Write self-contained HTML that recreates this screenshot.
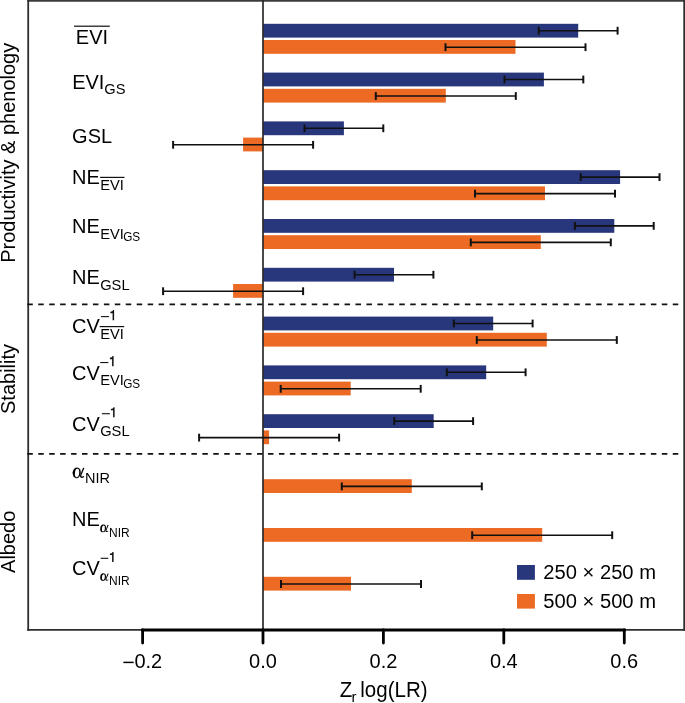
<!DOCTYPE html>
<html><head><meta charset="utf-8"><style>
html,body{margin:0;padding:0;background:#fff;}
svg{display:block;}
text{font-family:"Liberation Sans",sans-serif;fill:#000;}
</style></head><body>
<svg width="685" height="703" viewBox="0 0 685 703">
<defs><g id="al">
<ellipse cx="4.1" cy="-5.4" rx="4.1" ry="5.4" fill="#000" transform="rotate(6 4.1 -5.4)"/>
<path d="M10.4,-10.5 L11.8,-10.1 L8.8,-3.0 C8.5,-2.0 9.0,-1.5 10.0,-1.7 L11.3,-2.1 L11.6,-1.3 C10.6,-0.5 9.4,-0.1 8.4,-0.4 C7.4,-0.8 7.2,-1.9 7.6,-3.1 Z" fill="#000"/>
<ellipse cx="4.45" cy="-5.25" rx="2.1" ry="4.2" fill="#fff" transform="rotate(6 4.45 -5.25)"/>
</g></defs>
<rect width="685" height="703" fill="#fff"/>
<g style="opacity:0.999">
<line x1="27.3" y1="0.9" x2="685" y2="0.9" stroke="#3c3c3c" stroke-width="1.9"/>
<line x1="28.2" y1="0" x2="28.2" y2="630.8" stroke="#2e2e2e" stroke-width="1.8"/>
<line x1="684.2" y1="0" x2="684.2" y2="630.8" stroke="#2e2e2e" stroke-width="1.8"/>
<line x1="27.3" y1="629.9" x2="685" y2="629.9" stroke="#2e2e2e" stroke-width="1.8"/>
<line x1="27.3" y1="304.4" x2="683" y2="304.4" stroke="#111" stroke-width="1.8" stroke-dasharray="5.5 5.44"/>
<line x1="27.3" y1="453.8" x2="683" y2="453.8" stroke="#111" stroke-width="1.8" stroke-dasharray="5.5 5.44"/>
<rect x="263.0" y="23.8" width="315.2" height="13.8" fill="#28367c"/>
<rect x="263.0" y="72.6" width="280.9" height="13.8" fill="#28367c"/>
<rect x="263.0" y="121.4" width="80.9" height="13.8" fill="#28367c"/>
<rect x="263.0" y="170.2" width="357.1" height="13.8" fill="#28367c"/>
<rect x="263.0" y="219.0" width="351.3" height="13.8" fill="#28367c"/>
<rect x="263.0" y="267.8" width="131.0" height="13.8" fill="#28367c"/>
<rect x="263.0" y="316.6" width="230.2" height="13.8" fill="#28367c"/>
<rect x="263.0" y="365.4" width="223.2" height="13.8" fill="#28367c"/>
<rect x="263.0" y="414.2" width="170.7" height="13.8" fill="#28367c"/>
<rect x="263.0" y="40.0" width="252.5" height="13.8" fill="#ec6a23"/>
<rect x="263.0" y="88.8" width="182.8" height="13.8" fill="#ec6a23"/>
<rect x="243.1" y="137.6" width="19.9" height="13.8" fill="#ec6a23"/>
<rect x="263.0" y="186.4" width="282.0" height="13.8" fill="#ec6a23"/>
<rect x="263.0" y="235.2" width="277.8" height="13.8" fill="#ec6a23"/>
<rect x="233.1" y="284.0" width="29.9" height="13.8" fill="#ec6a23"/>
<rect x="263.0" y="332.8" width="283.8" height="13.8" fill="#ec6a23"/>
<rect x="263.0" y="381.6" width="87.7" height="13.8" fill="#ec6a23"/>
<rect x="263.0" y="430.4" width="6.1" height="13.8" fill="#ec6a23"/>
<rect x="263.0" y="479.2" width="148.8" height="13.8" fill="#ec6a23"/>
<rect x="263.0" y="528.0" width="279.2" height="13.8" fill="#ec6a23"/>
<rect x="263.0" y="576.8" width="88.0" height="13.8" fill="#ec6a23"/>
<line x1="263.0" y1="0" x2="263.0" y2="630" stroke="#2a2a2a" stroke-width="1.7"/>
<line x1="538.8" y1="30.7" x2="617.6" y2="30.7" stroke="#111" stroke-width="1.6"/>
<line x1="538.8" y1="26.8" x2="538.8" y2="34.6" stroke="#111" stroke-width="2"/>
<line x1="617.6" y1="26.8" x2="617.6" y2="34.6" stroke="#111" stroke-width="2"/>
<line x1="504.5" y1="79.5" x2="583.3" y2="79.5" stroke="#111" stroke-width="1.6"/>
<line x1="504.5" y1="75.6" x2="504.5" y2="83.4" stroke="#111" stroke-width="2"/>
<line x1="583.3" y1="75.6" x2="583.3" y2="83.4" stroke="#111" stroke-width="2"/>
<line x1="304.5" y1="128.3" x2="383.3" y2="128.3" stroke="#111" stroke-width="1.6"/>
<line x1="304.5" y1="124.4" x2="304.5" y2="132.2" stroke="#111" stroke-width="2"/>
<line x1="383.3" y1="124.4" x2="383.3" y2="132.2" stroke="#111" stroke-width="2"/>
<line x1="580.7" y1="177.1" x2="659.5" y2="177.1" stroke="#111" stroke-width="1.6"/>
<line x1="580.7" y1="173.2" x2="580.7" y2="181.0" stroke="#111" stroke-width="2"/>
<line x1="659.5" y1="173.2" x2="659.5" y2="181.0" stroke="#111" stroke-width="2"/>
<line x1="574.9" y1="225.9" x2="653.7" y2="225.9" stroke="#111" stroke-width="1.6"/>
<line x1="574.9" y1="222.0" x2="574.9" y2="229.8" stroke="#111" stroke-width="2"/>
<line x1="653.7" y1="222.0" x2="653.7" y2="229.8" stroke="#111" stroke-width="2"/>
<line x1="354.6" y1="274.7" x2="433.4" y2="274.7" stroke="#111" stroke-width="1.6"/>
<line x1="354.6" y1="270.8" x2="354.6" y2="278.6" stroke="#111" stroke-width="2"/>
<line x1="433.4" y1="270.8" x2="433.4" y2="278.6" stroke="#111" stroke-width="2"/>
<line x1="453.8" y1="323.5" x2="532.6" y2="323.5" stroke="#111" stroke-width="1.6"/>
<line x1="453.8" y1="319.6" x2="453.8" y2="327.4" stroke="#111" stroke-width="2"/>
<line x1="532.6" y1="319.6" x2="532.6" y2="327.4" stroke="#111" stroke-width="2"/>
<line x1="446.8" y1="372.3" x2="525.6" y2="372.3" stroke="#111" stroke-width="1.6"/>
<line x1="446.8" y1="368.4" x2="446.8" y2="376.2" stroke="#111" stroke-width="2"/>
<line x1="525.6" y1="368.4" x2="525.6" y2="376.2" stroke="#111" stroke-width="2"/>
<line x1="394.3" y1="421.1" x2="473.1" y2="421.1" stroke="#111" stroke-width="1.6"/>
<line x1="394.3" y1="417.2" x2="394.3" y2="425.0" stroke="#111" stroke-width="2"/>
<line x1="473.1" y1="417.2" x2="473.1" y2="425.0" stroke="#111" stroke-width="2"/>
<line x1="445.5" y1="47.2" x2="585.5" y2="47.2" stroke="#111" stroke-width="1.6"/>
<line x1="445.5" y1="43.3" x2="445.5" y2="51.1" stroke="#111" stroke-width="2"/>
<line x1="585.5" y1="43.3" x2="585.5" y2="51.1" stroke="#111" stroke-width="2"/>
<line x1="375.8" y1="96.0" x2="515.8" y2="96.0" stroke="#111" stroke-width="1.6"/>
<line x1="375.8" y1="92.1" x2="375.8" y2="99.9" stroke="#111" stroke-width="2"/>
<line x1="515.8" y1="92.1" x2="515.8" y2="99.9" stroke="#111" stroke-width="2"/>
<line x1="173.1" y1="144.8" x2="313.1" y2="144.8" stroke="#111" stroke-width="1.6"/>
<line x1="173.1" y1="140.9" x2="173.1" y2="148.7" stroke="#111" stroke-width="2"/>
<line x1="313.1" y1="140.9" x2="313.1" y2="148.7" stroke="#111" stroke-width="2"/>
<line x1="475.0" y1="193.6" x2="615.0" y2="193.6" stroke="#111" stroke-width="1.6"/>
<line x1="475.0" y1="189.7" x2="475.0" y2="197.5" stroke="#111" stroke-width="2"/>
<line x1="615.0" y1="189.7" x2="615.0" y2="197.5" stroke="#111" stroke-width="2"/>
<line x1="470.8" y1="242.4" x2="610.8" y2="242.4" stroke="#111" stroke-width="1.6"/>
<line x1="470.8" y1="238.5" x2="470.8" y2="246.3" stroke="#111" stroke-width="2"/>
<line x1="610.8" y1="238.5" x2="610.8" y2="246.3" stroke="#111" stroke-width="2"/>
<line x1="163.1" y1="291.2" x2="303.1" y2="291.2" stroke="#111" stroke-width="1.6"/>
<line x1="163.1" y1="287.3" x2="163.1" y2="295.1" stroke="#111" stroke-width="2"/>
<line x1="303.1" y1="287.3" x2="303.1" y2="295.1" stroke="#111" stroke-width="2"/>
<line x1="476.8" y1="340.0" x2="616.8" y2="340.0" stroke="#111" stroke-width="1.6"/>
<line x1="476.8" y1="336.1" x2="476.8" y2="343.9" stroke="#111" stroke-width="2"/>
<line x1="616.8" y1="336.1" x2="616.8" y2="343.9" stroke="#111" stroke-width="2"/>
<line x1="280.7" y1="388.8" x2="420.7" y2="388.8" stroke="#111" stroke-width="1.6"/>
<line x1="280.7" y1="384.9" x2="280.7" y2="392.7" stroke="#111" stroke-width="2"/>
<line x1="420.7" y1="384.9" x2="420.7" y2="392.7" stroke="#111" stroke-width="2"/>
<line x1="199.1" y1="437.6" x2="339.1" y2="437.6" stroke="#111" stroke-width="1.6"/>
<line x1="199.1" y1="433.7" x2="199.1" y2="441.5" stroke="#111" stroke-width="2"/>
<line x1="339.1" y1="433.7" x2="339.1" y2="441.5" stroke="#111" stroke-width="2"/>
<line x1="341.8" y1="486.4" x2="481.8" y2="486.4" stroke="#111" stroke-width="1.6"/>
<line x1="341.8" y1="482.5" x2="341.8" y2="490.3" stroke="#111" stroke-width="2"/>
<line x1="481.8" y1="482.5" x2="481.8" y2="490.3" stroke="#111" stroke-width="2"/>
<line x1="472.2" y1="535.2" x2="612.2" y2="535.2" stroke="#111" stroke-width="1.6"/>
<line x1="472.2" y1="531.3" x2="472.2" y2="539.1" stroke="#111" stroke-width="2"/>
<line x1="612.2" y1="531.3" x2="612.2" y2="539.1" stroke="#111" stroke-width="2"/>
<line x1="281.0" y1="584.0" x2="421.0" y2="584.0" stroke="#111" stroke-width="1.6"/>
<line x1="281.0" y1="580.1" x2="281.0" y2="587.9" stroke="#111" stroke-width="2"/>
<line x1="421.0" y1="580.1" x2="421.0" y2="587.9" stroke="#111" stroke-width="2"/>
<line x1="141.2" y1="630" x2="625.7" y2="630" stroke="#000" stroke-width="3.2"/>
<line x1="142.6" y1="630" x2="142.6" y2="643.1" stroke="#000" stroke-width="2.8" stroke-linecap="round"/>
<text transform="translate(134.4,667.7) scale(1,1.035)" font-size="20">0.2</text>
<rect x="123.4" y="661.65" width="10.3" height="1.5" fill="#000"/>
<line x1="263.0" y1="630" x2="263.0" y2="643.1" stroke="#000" stroke-width="2.8" stroke-linecap="round"/>
<text transform="translate(263.00,667.7) scale(1,1.035)" text-anchor="middle" font-size="20">0.0</text>
<line x1="383.4" y1="630" x2="383.4" y2="643.1" stroke="#000" stroke-width="2.8" stroke-linecap="round"/>
<text transform="translate(383.42,667.7) scale(1,1.035)" text-anchor="middle" font-size="20">0.2</text>
<line x1="503.8" y1="630" x2="503.8" y2="643.1" stroke="#000" stroke-width="2.8" stroke-linecap="round"/>
<text transform="translate(503.84,667.7) scale(1,1.035)" text-anchor="middle" font-size="20">0.4</text>
<line x1="624.3" y1="630" x2="624.3" y2="643.1" stroke="#000" stroke-width="2.8" stroke-linecap="round"/>
<text transform="translate(624.26,667.7) scale(1,1.035)" text-anchor="middle" font-size="20">0.6</text>
<text transform="translate(339.8,697.0) scale(1,1.035)" font-size="20.5">Z</text>
<text transform="translate(351.4,702.0) scale(1,1.035)" font-size="15">r</text>
<text transform="translate(360.3,697.0) scale(1,1.035)" font-size="20.5">log(LR)</text>
<text transform="translate(15.2,152.8) rotate(-90) scale(1,1.035)" text-anchor="middle" font-size="20">Productivity &amp; phenology</text>
<text transform="translate(15.2,379.0) rotate(-90) scale(1,1.035)" text-anchor="middle" font-size="20">Stability</text>
<text transform="translate(15.2,541.8) rotate(-90) scale(1,1.035)" text-anchor="middle" font-size="20">Albedo</text>
<rect x="517.0" y="565.0" width="17.9" height="14.8" fill="#28367c"/>
<rect x="517.0" y="594.0" width="17.9" height="14.6" fill="#ec6a23"/>
<text transform="translate(543.2,579.4) scale(1,1.035)" font-size="20.2">250 × 250 m</text>
<text transform="translate(543.2,608.0) scale(1,1.035)" font-size="20.2">500 × 500 m</text>
<text transform="translate(75.80,44.20) scale(1,1.035)" font-size="20">EVI</text>
<rect x="74.0" y="25.60" width="35.8" height="1.2" fill="#111"/>
<text transform="translate(72.20,88.80) scale(1,1.035)" font-size="20">EVI</text>
<text transform="translate(104.30,94.40) scale(1,1.035)" font-size="14.7">GS</text>
<text transform="translate(72.10,143.40) scale(1,1.035)" font-size="20">GSL</text>
<text transform="translate(72.00,184.40) scale(1,1.035)" font-size="20">NE</text>
<text transform="translate(100.20,190.40) scale(1,1.035)" font-size="14.7">EVI</text>
<rect x="100.1" y="176.80" width="24.4" height="1.2" fill="#111"/>
<text transform="translate(72.00,233.00) scale(1,1.035)" font-size="20">NE</text>
<text transform="translate(100.20,238.90) scale(1,1.035)" font-size="14.7">EVI</text>
<text transform="translate(123.20,241.30) scale(1,1.035)" font-size="11.8">GS</text>
<text transform="translate(72.00,283.80) scale(1,1.035)" font-size="20">NE</text>
<text transform="translate(100.20,289.70) scale(1,1.035)" font-size="14.7">GSL</text>
<text transform="translate(72.10,333.40) scale(1,1.035)" font-size="20">CV</text>
<rect x="101.05" y="316.05" width="7.85" height="1.1" fill="#111"/>
<path d="M114.10,310.05 L114.10,320.20 L112.60,320.20 L112.60,313.15 L110.40,313.15 L110.40,311.85 C112.00,311.75 112.70,311.05 113.00,310.05 Z" fill="#111"/>
<text transform="translate(100.20,338.60) scale(1,1.035)" font-size="14.7">EVI</text>
<rect x="99.7" y="326.00" width="24.5" height="1.2" fill="#111"/>
<text transform="translate(72.10,379.80) scale(1,1.035)" font-size="20">CV</text>
<rect x="100.25" y="362.00" width="8.05" height="1.1" fill="#111"/>
<path d="M113.60,356.05 L113.60,366.20 L112.10,366.20 L112.10,359.15 L109.90,359.15 L109.90,357.85 C111.50,357.75 112.20,357.05 112.50,356.05 Z" fill="#111"/>
<text transform="translate(100.20,385.00) scale(1,1.035)" font-size="14.7">EVI</text>
<text transform="translate(123.20,388.00) scale(1,1.035)" font-size="11.8">GS</text>
<text transform="translate(72.10,430.60) scale(1,1.035)" font-size="20">CV</text>
<rect x="101.90" y="413.15" width="8.00" height="1.1" fill="#111"/>
<path d="M114.60,407.20 L114.60,417.35 L113.10,417.35 L113.10,410.30 L110.90,410.30 L110.90,409.00 C112.50,408.90 113.20,408.20 113.50,407.20 Z" fill="#111"/>
<text transform="translate(100.20,435.70) scale(1,1.035)" font-size="14.7">GSL</text>
<use href="#al" transform="translate(72.60,478.20) scale(1.0)"/>
<text transform="translate(85.00,483.20) scale(1,1.035)" font-size="14.5">NIR</text>
<text transform="translate(72.00,526.20) scale(1,1.035)" font-size="20">NE</text>
<use href="#al" transform="translate(100.20,532.30) scale(0.715)"/>
<text transform="translate(109.00,536.60) scale(1,1.035)" font-size="12">NIR</text>
<text transform="translate(72.10,575.10) scale(1,1.035)" font-size="20">CV</text>
<rect x="100.70" y="557.75" width="7.60" height="1.1" fill="#111"/>
<path d="M113.60,551.90 L113.60,562.05 L112.10,562.05 L112.10,555.00 L109.90,555.00 L109.90,553.70 C111.50,553.60 112.20,552.90 112.50,551.90 Z" fill="#111"/>
<use href="#al" transform="translate(100.20,580.90) scale(0.715)"/>
<text transform="translate(109.00,585.20) scale(1,1.035)" font-size="12">NIR</text>
</g>
</svg>
</body></html>
